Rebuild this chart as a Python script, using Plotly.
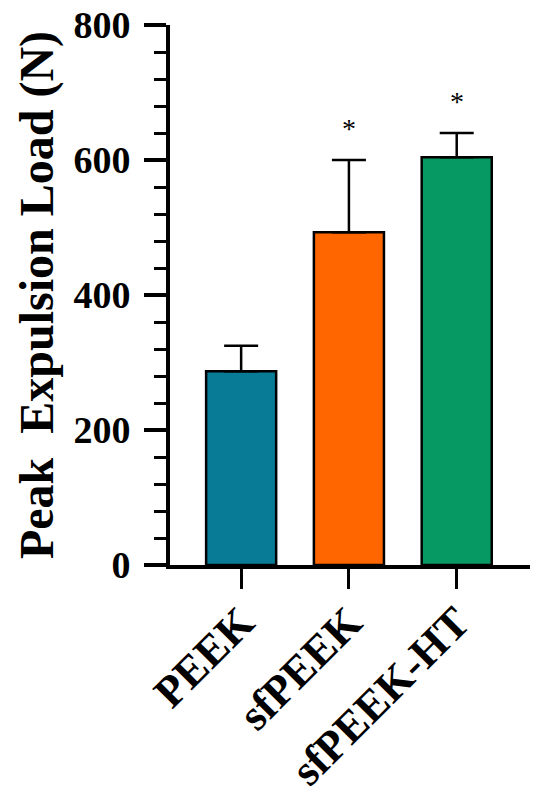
import plotly.graph_objects as go

groups = ["PEEK", "sfPEEK", "sfPEEK-HT"]
means = [287, 493, 604]
sds = [38, 107, 36]
colors = ["#087b96", "#ff6600", "#079963"]
marks = ["", "*", "*"]

FONT = "Liberation Serif"

fig = go.Figure()
fig.add_trace(go.Bar(
    x=groups, y=means,
    width=0.65,
    marker=dict(color=colors, line=dict(color="black", width=2.5)),
    error_y=dict(type="data", array=sds, symmetric=False, arrayminus=[0, 0, 0],
                 color="black", thickness=2.5, width=17),
))

# 显著性星号，贴在误差线顶端上方
for g, m, s, t in zip(groups, means, sds, marks):
    if t:
        fig.add_annotation(x=g, y=m + s, text=t, showarrow=False, yanchor="bottom",
                           yshift=14, font=dict(family=FONT, size=28, color="black"))

# 页面 body 有 8px 默认边距，这里把边距整体往左上收
fig.update_layout(
    width=550, height=804,
    margin=dict(l=162, r=28, t=17, b=247),
    plot_bgcolor="white", paper_bgcolor="white",
    showlegend=False,
    font=dict(family=FONT, color="black"),
)
fig.update_xaxes(
    range=[-0.66, 2.68], automargin=False,
    showline=True, linecolor="black", linewidth=4,
    ticks="outside", ticklen=20, tickwidth=3, tickcolor="black",
    tickangle=-45, ticklabelstandoff=-10, ticklabeloverflow="allow",
    tickfont=dict(family=FONT, size=44, color="black", weight="bold"),
)
fig.update_yaxes(
    range=[0, 800], tickvals=[0, 200, 400, 600, 800], automargin=False,
    showline=True, linecolor="black", linewidth=4,
    ticks="outside", ticklen=22, tickwidth=3.5, tickcolor="black",
    minor=dict(ticks="outside", dtick=40, ticklen=12, tickwidth=3, tickcolor="black"),
    showgrid=False, zeroline=False,
    ticklabelstandoff=6, ticklabeloverflow="allow",
    tickfont=dict(family=FONT, size=38, color="black", weight="bold"),
    title=dict(text="Peak  Expulsion Load (N)", standoff=6,
               font=dict(family=FONT, size=48, color="black", weight="bold")),
)

fig.write_html("out.html")
